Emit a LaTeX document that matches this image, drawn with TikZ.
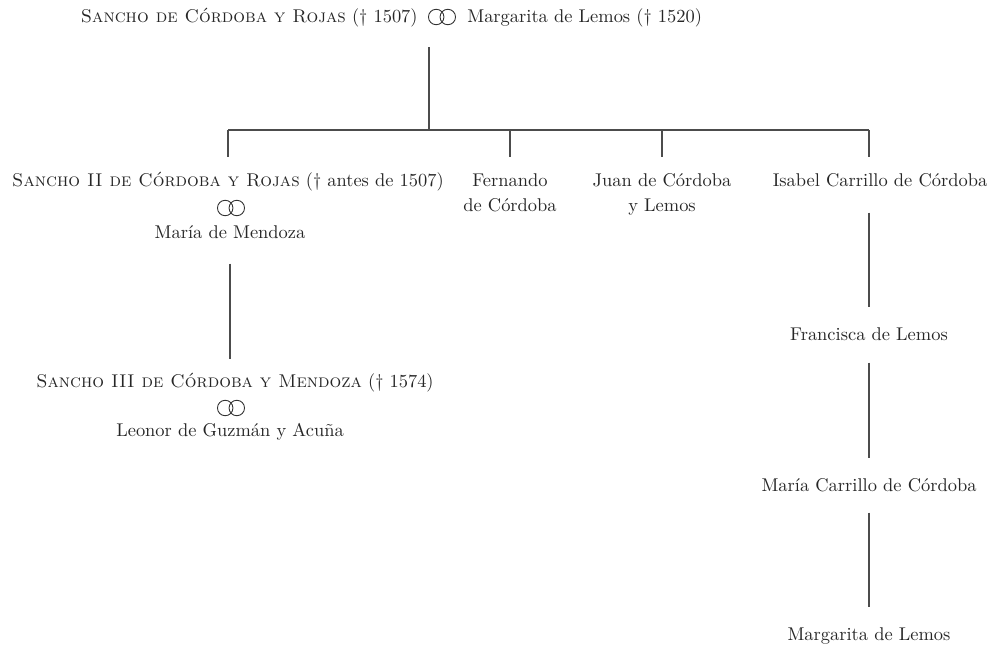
\documentclass[tikz,border=0pt]{standalone}
\usepackage{fontspec}
\begin{document}
\begin{tikzpicture}[x=0.02cm,y=-0.02cm,
  person/.style={inner sep=0pt, text height=7.3pt, text depth=2.1pt, font=\fontsize{10.5}{12.5}\selectfont, text=black!85},
  conn/.style={draw=black!70, line width=0.6pt},
  marr/.pic={\draw[black!80, line width=0.5pt] (-3.3pt,0pt) circle (4.4pt) (3.3pt,0pt) circle (4.4pt);}
]
\useasboundingbox (0,0) rectangle (1000,649);
% generation 1
\node[person, anchor=east] (hus) at (418,18) {\textsc{Sancho de Córdoba y Rojas} († 1507)};
\pic at (442,17) {marr};
\node[person, anchor=west] (wife) at (467,18) {Margarita de Lemos († 1520)};
% generation 2
\node[person] (s2) at (228,182) {\textsc{Sancho II de Córdoba y Rojas} († antes de 1507)};
\pic at (231,208) {marr};
\node[person] (mm) at (230,234) {María de Mendoza};
\node[person] (fernA) at (510,182) {Fernando};
\node[person] (fernB) at (510,207) {de Córdoba};
\node[person] (juanA) at (662,182) {Juan de Córdoba};
\node[person] (juanB) at (662,207) {y Lemos};
\node[person] (isa) at (880,182) {Isabel Carrillo de Córdoba};
% generation 3
\node[person] (s3) at (235,383) {\textsc{Sancho III de Córdoba y Mendoza} († 1574)};
\pic at (231,408) {marr};
\node[person] (leo) at (230,432) {Leonor de Guzmán y Acuña};
\node[person] (fra) at (869,336) {Francisca de Lemos};
\node[person] (mcc) at (869,487) {María Carrillo de Córdoba};
\node[person] (mar) at (869,636) {Margarita de Lemos};
% connectors
\coordinate (cpl) at (429,47);
\coordinate (bl) at (228,130);
\coordinate (br) at (869,130);
\draw[conn] (cpl) -- (cpl |- bl);
\draw[conn] (bl) -- (br);
\draw[conn, shorten >=0.32cm] (bl) -- (bl |- s2.north);
\draw[conn, shorten >=0.32cm] (fernA.north |- bl) -- (fernA.north);
\draw[conn, shorten >=0.32cm] (juanA.north |- bl) -- (juanA.north);
\draw[conn, shorten >=0.32cm] (br) -- (br |- isa.north);
\draw[conn, shorten <=0.42cm, shorten >=0.30cm] (mm.south) -- (mm.south |- s3.north);
\draw[conn, shorten <=0.44cm, shorten >=0.40cm] (isa.south -| fra.north) -- (fra.north);
\draw[conn, shorten <=0.36cm, shorten >=0.40cm] (fra.south) -- (mcc.north);
\draw[conn, shorten <=0.34cm, shorten >=0.40cm] (mcc.south) -- (mar.north);
\end{tikzpicture}
\end{document}
